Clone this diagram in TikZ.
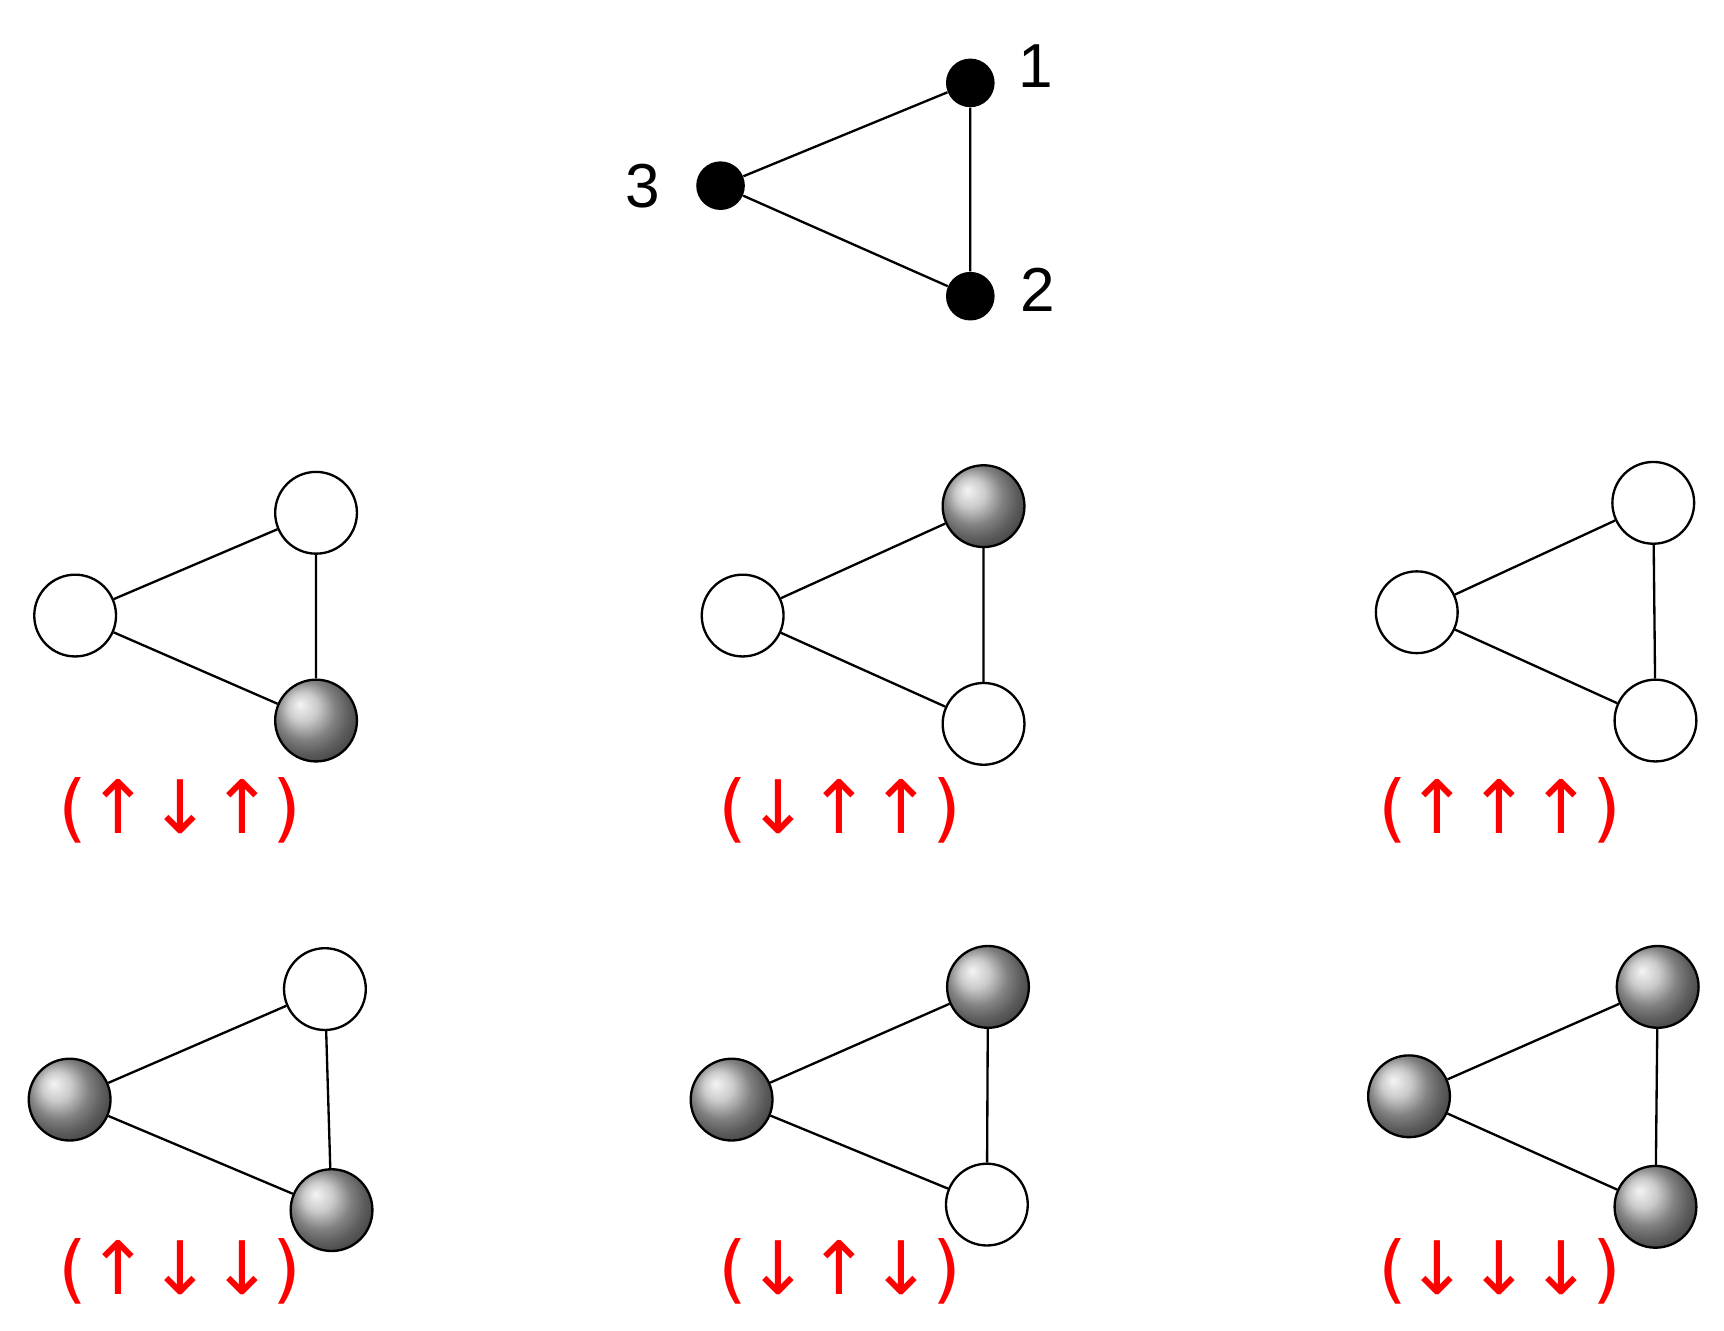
\documentclass[tikz,border=0pt]{standalone}
\usepackage{fontspec}
\setmainfont{Liberation Sans}
\newfontfamily\djv{DejaVu Sans}
\begin{document}
\begin{tikzpicture}[x=0.02cm,y=-0.02cm,
  dot/.style={circle,fill=black,minimum size=44*0.02cm,inner sep=0},
  up/.style={circle,draw=black,line width=1.2pt,fill=white,minimum size=74*0.02cm,inner sep=0},
  dn/.style={circle,draw=black,line width=1.2pt,shading=ball,ball color=gray!55,minimum size=74*0.02cm,inner sep=0},
  num/.style={font=\fontsize{32}{36}\selectfont},
  spin/.style={text=red,font=\djv\fontsize{38}{42}\selectfont},
  edge/.style={line width=1.2pt}]
\useasboundingbox (0,0) rectangle (1560,1204);
% top
\node[dot] (t1) at (878,75) {};
\node[dot] (t2) at (878,268) {};
\node[dot] (t3) at (652,168) {};
\draw[edge] (t1)--(t2) (t2)--(t3) (t3)--(t1);
\node[num] (l1) at (937,60) {1};
\node[num] (l2) at (939,262) {2};
\node[num] (l3) at (582,168) {3};
% panels
\newcommand{\panel}[9]{%
  \node[#7] (#8a) at (#1) {};
  \node[#9] (#8b) at (#2) {};
  \node[#6] (#8c) at (#3) {};
  \draw[edge] (#8a)--(#8b) (#8b)--(#8c) (#8c)--(#8a);
  \node[spin] (#8s) at (#4) {#5};}
\panel{286,464}{286,652}{68,557}{163,733}{(↑↓↑)}{up}{up}{pA}{dn}
\panel{890,458}{890,655}{672,557}{760,733}{(↓↑↑)}{up}{dn}{pB}{up}
\panel{1496,455}{1498,652}{1282,554}{1357,733}{(↑↑↑)}{up}{up}{pC}{up}
\panel{294,895}{300,1095}{63,995}{163,1150}{(↑↓↓)}{dn}{up}{pD}{dn}
\panel{894,893}{893,1090}{662,995}{760,1150}{(↓↑↓)}{dn}{dn}{pE}{up}
\panel{1500,893}{1498,1092}{1275,992}{1357,1150}{(↓↓↓)}{dn}{dn}{pF}{dn}
\end{tikzpicture}
\end{document}
